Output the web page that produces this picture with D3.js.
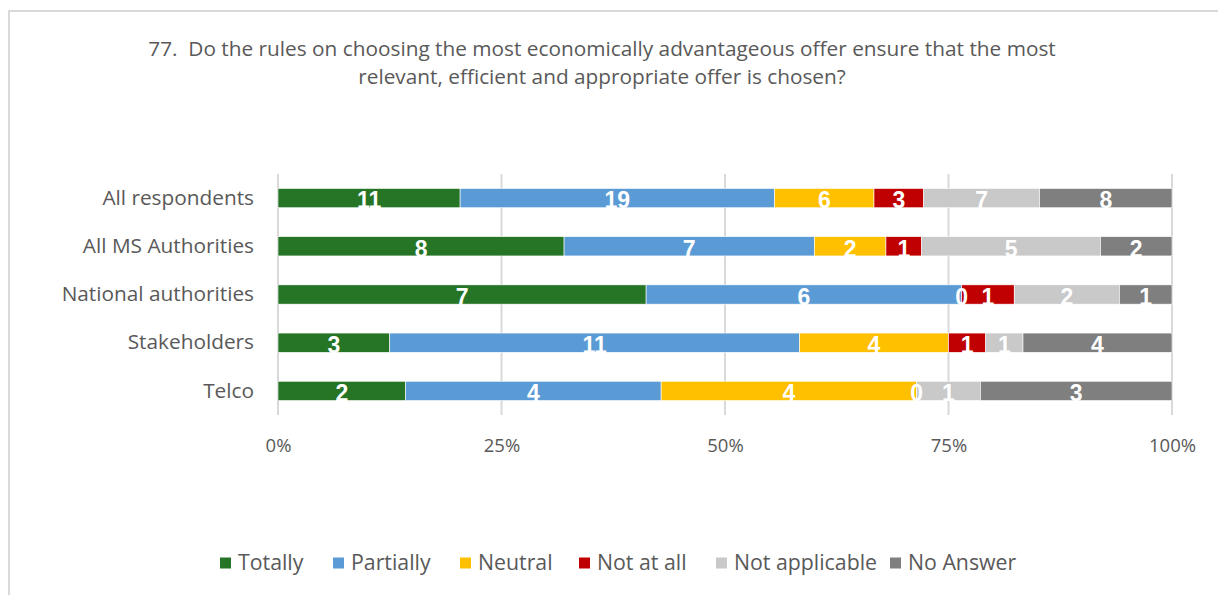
<!DOCTYPE html>
<html>
<head>
<meta charset="utf-8">
<script src="https://cdn.jsdelivr.net/npm/d3@7"></script>
<style>
  html, body { margin: 0; padding: 0; background: #fff; }
  svg { display: block; }
  text { font-family: "Open Sans", "Noto Sans", sans-serif; }
  text.value { font-family: "Liberation Sans", Arial, sans-serif; font-weight: bold; }
</style>
</head>
<body>
<svg id="chart" width="1218" height="595"></svg>
<script>
// Survey question 77: answers by respondent group (counts)
const categories = ["All respondents", "All MS Authorities", "National authorities", "Stakeholders", "Telco"];
const seriesNames = ["Totally", "Partially", "Neutral", "Not at all", "Not applicable", "No Answer"];
const totally       = [11, 8, 7, 3, 2];
const partially     = [19, 7, 6, 11, 4];
const neutral       = [6, 2, 0, 4, 4];
const notAtAll      = [3, 1, 1, 1, 0];
const notApplicable = [7, 5, 2, 1, 1];
const noAnswer      = [8, 2, 1, 4, 3];
const tickValues = [0, 0.25, 0.5, 0.75, 1];
const tickLabels = ["0%", "25%", "50%", "75%", "100%"];
const titleLines = [
  "77.  Do the rules on choosing the most economically advantageous offer ensure that the most",
  "relevant, efficient and appropriate offer is chosen?"
];

const colors = ["#267426", "#5b9bd5", "#ffc000", "#c00000", "#c9c9c9", "#7f7f7f"];
const seriesValues = [totally, partially, neutral, notAtAll, notApplicable, noAnswer];

// Rows: one object per category with each series count
const rows = categories.map((c, i) => {
  const r = { category: c };
  seriesNames.forEach((s, k) => { r[s] = seriesValues[k][i]; });
  return r;
});

// 100% stacked layout
const stack = d3.stack()
  .keys(seriesNames)
  .offset(d3.stackOffsetExpand);
const layers = stack(rows);

const svg = d3.select("#chart");
const textGray = "#595959";

// Outer chart frame
svg.append("path")
  .attr("d", "M9,595 V11 H1218")
  .attr("fill", "none")
  .attr("stroke", "#d9d9d9")
  .attr("stroke-width", 2);

// Title
svg.append("g").selectAll("text")
  .data(titleLines)
  .join("text")
  .attr("x", 602)
  .attr("y", (d, i) => 56 + i * 28)
  .attr("text-anchor", "middle")
  .attr("font-size", 20.8)
  .attr("fill", textGray)
  .style("white-space", "pre")
  .text(d => d);

const x = d3.scaleLinear().domain([0, 1]).range([278, 1172]);
const y = d3.scaleBand().domain(categories).range([174, 415]).paddingInner(0.6).paddingOuter(0.3);

// Vertical gridlines
svg.append("g").selectAll("line")
  .data(tickValues)
  .join("line")
  .attr("x1", d => x(d)).attr("x2", d => x(d))
  .attr("y1", 174).attr("y2", 415)
  .attr("stroke", "#d9d9d9")
  .attr("stroke-width", 2);

// Bottom percentage axis (labels only)
const xAxis = d3.axisBottom(x)
  .tickValues(tickValues)
  .tickFormat((d, i) => tickLabels[i])
  .tickSize(0)
  .tickPadding(0);
const gx = svg.append("g").attr("transform", "translate(0,439)").call(xAxis);
gx.select(".domain").remove();
gx.selectAll("text")
  .attr("font-size", 18.5)
  .attr("fill", textGray)
  .style("font-family", "'Open Sans', sans-serif");

// Left category axis (labels only)
const yAxis = d3.axisLeft(y).tickSize(0).tickPadding(0);
const gy = svg.append("g").attr("transform", "translate(254,0)").call(yAxis);
gy.select(".domain").remove();
gy.selectAll("text")
  .attr("font-size", 20.8)
  .attr("fill", textGray)
  .style("font-family", "'Open Sans', sans-serif");

// Stacked bars
const layerG = svg.append("g").selectAll("g")
  .data(layers)
  .join("g")
  .attr("fill", (d, i) => colors[i]);

layerG.selectAll("rect")
  .data(d => d)
  .join("rect")
  .attr("x", d => x(d[0]))
  .attr("y", d => y(d.data.category))
  .attr("width", d => x(d[1]) - x(d[0]))
  .attr("height", y.bandwidth())
  .attr("stroke", "#ffffff")
  .attr("stroke-width", 0.6);

// Value labels centred on each segment
const labelG = svg.append("g");
layers.forEach((layer) => {
  labelG.selectAll(null)
    .data(layer)
    .join("text")
    .attr("class", "value")
    .attr("x", d => x((d[0] + d[1]) / 2))
    .attr("y", d => y(d.data.category) + y.bandwidth() / 2)
    .attr("dy", "0.45em")
    .attr("text-anchor", "middle")
    .attr("font-size", 23)
    .attr("fill", "#ffffff")
    .text(d => d.data[layer.key]);
});

// Legend
const legendX = [220, 333, 460, 579, 716, 890];
const legend = svg.append("g").selectAll("g")
  .data(seriesNames)
  .join("g")
  .attr("transform", (d, i) => `translate(${legendX[i]},563)`);
legend.append("rect")
  .attr("x", 0).attr("y", -5.5)
  .attr("width", 11).attr("height", 11)
  .attr("fill", (d, i) => colors[i]);
legend.append("text")
  .attr("x", 18)
  .attr("dy", "0.35em")
  .attr("font-size", 21.3)
  .attr("fill", textGray)
  .text(d => d);
</script>
</body>
</html>
